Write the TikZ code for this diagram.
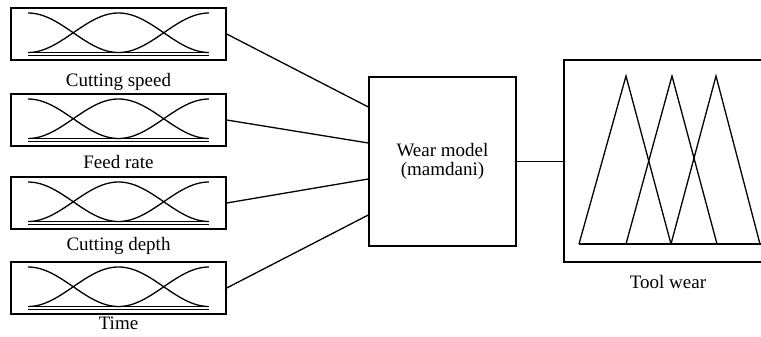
\documentclass[tikz,border=0pt]{standalone}
\usepackage{fontspec}
\setmainfont{Liberation Serif}
\begin{document}
\begin{tikzpicture}[x=1pt,y=-1pt, line width=1.3pt,
  box/.style={draw, inner sep=0pt, line width=1.4pt},
  lbl/.style={anchor=base, font=\fontsize{19}{20}\selectfont, inner sep=0pt},
  mf/.style={line width=1.3pt},
  conn/.style={line width=1.3pt}]
\useasboundingbox (0,0) rectangle (761,337);
\clip (0,0) rectangle (761,337);
\foreach \t/\n/\b/\txt in {8/1/87/Cutting speed, 94/2/168/Feed rate, 177/3/250/Cutting depth, 262/4/329/Time} {
  \node[box, minimum width=215pt, minimum height=52pt] (in\n) at (118.5,\t+26) {};
  \draw[mf, domain=0:1, samples=80, smooth] plot ({28+181*\x},{\t+24.75-19.75*cos(360*\x)});
  \draw[mf, domain=0:1, samples=80, smooth] plot ({28+181*\x},{\t+24.75+19.75*cos(360*\x)});
  \draw[mf] (28,\t+44.5) -- (209,\t+44.5);
  \draw[mf] (28,\t+47.2) -- (209,\t+47.2);
  \node[lbl] (lab\n) at (118.5,\b) {\txt};
}
\node[box, minimum width=147pt, minimum height=169pt, align=center,
      font=\fontsize{19}{19}\selectfont] (wear) at (442.5,161.5) {\raisebox{-3pt}{Wear model}\\\raisebox{-3pt}{(mamdani)}};
\draw[conn] (in1.east) -- ([yshift=54.5pt]wear.west);
\draw[conn] (in2.east) -- ([yshift=18.5pt]wear.west);
\draw[conn] (in3.east) -- ([yshift=-17.5pt]wear.west);
\draw[conn] (in4.east) -- ([yshift=-53.5pt]wear.west);
\node[box, minimum width=226pt, minimum height=202pt] (out) at (677,161) {};
\draw[conn] (wear.east) -- (wear.east -| out.west);
\draw[mf] (579,244) -- (770,244);
\draw[mf, line join=miter] (579,244) -- (626,76) -- (671,244);
\draw[mf, line join=miter] (626,244) -- (672,76) -- (717,244);
\draw[mf, line join=miter] (671,244) -- (716,76) -- (760,244);
\node[lbl] (outlab) at (668,288) {Tool wear};
\end{tikzpicture}
\end{document}
